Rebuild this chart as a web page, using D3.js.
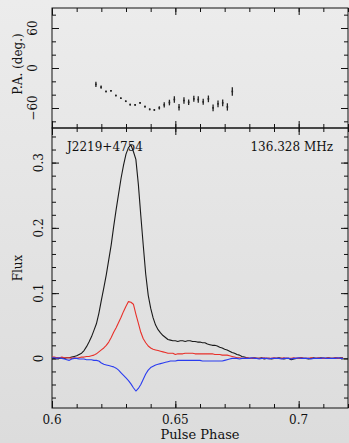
<!DOCTYPE html>
<html>
<head>
<meta charset="utf-8">
<script src="https://cdn.jsdelivr.net/npm/d3@7"></script>
<style>
  html, body { margin: 0; padding: 0; background: #e4e4e4; }
  svg { display: block; }
  text { font-family: "DejaVu Serif", "Liberation Serif", serif; fill: #111; }
</style>
</head>
<body>
<div id="chart"></div>
<script>
// ---------------- DATA ----------------
const phaseStart = 0.600;
const phaseStep = 0.001;

// Total intensity (black)
const fluxI = [
  0.001,0.000,0.001,0.000,0.001,0.000,0.001,0.001,0.002,0.003,
  0.004,0.006,0.008,0.012,0.018,0.025,0.033,0.043,0.053,0.069,
  0.089,0.108,0.128,0.151,0.174,0.202,0.228,0.252,0.276,0.296,
  0.313,0.323,0.327,0.317,0.305,0.267,0.219,0.173,0.129,0.097,
  0.077,0.062,0.051,0.044,0.039,0.035,0.032,0.029,0.028,0.027,
  0.027,0.026,0.027,0.027,0.026,0.027,0.027,0.026,0.026,0.025,
  0.025,0.024,0.024,0.022,0.021,0.020,0.020,0.019,0.017,0.016,
  0.014,0.013,0.011,0.009,0.008,0.006,0.005,0.003,0.002,0.001,
  0.000,0.000,0.001,0.000,0.000,0.001,-0.001,0.000,0.000,-0.001,
  0.000,0.000,0.001,0.000,-0.001,0.000,0.000,-0.002,-0.001,0.000,
  0.000,0.001,0.000,0.000,-0.001,0.000,0.001,0.000,0.000,0.001,
  0.000,0.000,0.001,0.000,0.000,0.001,0.000,0.001,0.001
];
// Linear polarisation (red)
const fluxL = [
  0.002,0.002,0.001,0.001,0.002,0.001,0.001,0.001,0.000,0.001,
  0.000,0.001,0.002,0.002,0.003,0.003,0.004,0.005,0.007,0.010,
  0.013,0.016,0.020,0.025,0.032,0.040,0.047,0.055,0.063,0.072,
  0.080,0.087,0.086,0.083,0.068,0.054,0.040,0.030,0.024,0.019,
  0.016,0.014,0.013,0.012,0.011,0.010,0.009,0.008,0.008,0.008,
  0.006,0.007,0.007,0.007,0.008,0.008,0.008,0.008,0.007,0.007,
  0.007,0.007,0.007,0.007,0.007,0.007,0.006,0.006,0.006,0.005,
  0.005,0.005,0.004,0.003,0.002,0.001,0.001,0.000,0.000,0.001,
  0.000,0.000,0.001,0.000,0.000,0.000,0.001,0.000,0.000,0.000,
  0.001,0.000,0.000,0.000,0.001,0.000,0.000,0.000,0.001,0.000,
  0.000,0.001,0.000,0.000,0.000,0.001,0.000,0.000,0.001,0.000,
  0.000,0.000,0.001,0.000,0.000,0.001,0.000,0.000,0.001
];
// Circular polarisation (blue)
const fluxV = [
  0.001,0.001,0.000,0.001,0.000,-0.001,-0.002,-0.003,-0.001,0.000,
  0.000,-0.001,-0.001,-0.001,-0.002,-0.002,-0.002,-0.003,-0.003,-0.004,
  -0.007,-0.009,-0.010,-0.011,-0.012,-0.013,-0.015,-0.018,-0.022,-0.026,
  -0.030,-0.034,-0.039,-0.045,-0.050,-0.046,-0.040,-0.032,-0.024,-0.018,
  -0.014,-0.012,-0.010,-0.009,-0.008,-0.007,-0.006,-0.005,-0.004,-0.004,
  -0.004,-0.003,-0.003,-0.003,-0.003,-0.003,-0.003,-0.003,-0.003,-0.003,
  -0.003,-0.004,-0.004,-0.004,-0.004,-0.004,-0.004,-0.004,-0.004,-0.004,
  -0.003,-0.002,-0.001,0.000,0.000,0.000,-0.001,0.000,0.000,0.000,
  0.000,0.001,0.000,0.000,-0.001,0.000,0.000,0.000,-0.001,0.000,
  0.000,0.000,0.000,-0.001,0.000,0.000,0.000,-0.001,0.000,0.000,
  0.001,0.000,0.000,0.000,0.000,-0.001,0.000,0.000,0.000,0.000,
  0.001,0.000,0.000,0.000,0.000,0.000,0.001,0.000,0.000
];

// Position angle points
const paPhase = [
  0.6178,0.6199,0.6219,0.6239,0.6259,0.6279,0.6299,0.6317,0.6337,0.6357,
  0.6377,0.6396,0.6415,0.6435,0.6455,0.6476,0.6496,0.6515,0.6535,0.6554,
  0.6575,0.6593,0.6613,0.6634,0.6653,0.6673,0.6692,0.6711,0.6731
];
const paValue = [
  -24.6,-28.7,-35.2,-34.2,-41.3,-45.3,-49.9,-54.9,-55.3,-52.3,
  -57.9,-62.0,-62.9,-59.8,-55.3,-51.8,-47.3,-58.9,-48.8,-51.4,
  -46.3,-47.3,-50.8,-46.3,-59.8,-53.8,-52.3,-58.4,-35.2
];
const paError = [
  3.8,2.5,1.2,1.2,1.2,1.2,1.2,1.2,1.2,1.2,
  1.2,1.2,1.2,2.5,3.8,4.2,4.8,5.0,5.0,4.0,
  4.5,4.8,4.5,5.0,5.0,5.0,5.0,5.5,6.5
];

// Tick values / labels
const xMajorTicks = [0.6, 0.65, 0.7];
const xTickLabels = ["0.6", "0.65", "0.7"];
const paMajorTicks = [-60, 0, 60];
const paTickLabels = ["\u221260", "0", "60"];
const fluxMajorTicks = [0, 0.1, 0.2, 0.3];
const fluxTickLabels = ["0", "0.1", "0.2", "0.3"];

const pulsarName = "J2219+4754";
const freqLabel = "136.328 MHz";

// ---------------- LAYOUT ----------------
const W = 349, H = 443;
const L = 52, R = 348;
const topY0 = 8, midY = 128, botY1 = 408;

const svg = d3.select("#chart").append("svg").attr("width", W).attr("height", H);
const defs = svg.append("defs");
const grad = defs.append("linearGradient").attr("id", "bg").attr("x1", 0).attr("y1", 0).attr("x2", 0).attr("y2", 1);
grad.append("stop").attr("offset", "0%").attr("stop-color", "#ececec");
grad.append("stop").attr("offset", "100%").attr("stop-color", "#dcdcdc");
svg.append("rect").attr("width", W).attr("height", H).attr("fill", "url(#bg)");

const x = d3.scaleLinear().domain([0.6, 0.72]).range([L, R]);
const yPA = d3.scaleLinear().domain([-90, 90]).range([midY, topY0]);
const yF = d3.scaleLinear().domain([-0.076, 0.353]).range([botY1, midY]);

const xMinor = d3.range(0.6, 0.7201, 0.01);
const paMinor = d3.range(-80, 81, 20);
const fMinor = d3.range(-0.06, 0.351, 0.02);

function axisTicks(g, axisFn, scale, vals, size) {
  const a = axisFn(scale).tickValues(vals).tickSize(size).tickFormat("");
  g.call(a);
  g.select(".domain").remove();
  g.selectAll(".tick line").attr("stroke", "#111").attr("stroke-width", 1);
}

function panel(yScale, y0, y1, yMajor, yMinor) {
  const g = svg.append("g");
  axisTicks(g.append("g").attr("transform", `translate(0,${y1})`), d3.axisBottom, x, xMinor, -4);
  axisTicks(g.append("g").attr("transform", `translate(0,${y1})`), d3.axisBottom, x, xMajorTicks, -7);
  axisTicks(g.append("g").attr("transform", `translate(0,${y0})`), d3.axisTop, x, xMinor, -4);
  axisTicks(g.append("g").attr("transform", `translate(0,${y0})`), d3.axisTop, x, xMajorTicks, -7);
  axisTicks(g.append("g").attr("transform", `translate(${L},0)`), d3.axisLeft, yScale, yMinor, -4);
  axisTicks(g.append("g").attr("transform", `translate(${L},0)`), d3.axisLeft, yScale, yMajor, -7);
  axisTicks(g.append("g").attr("transform", `translate(${R},0)`), d3.axisRight, yScale, yMinor, -4);
  axisTicks(g.append("g").attr("transform", `translate(${R},0)`), d3.axisRight, yScale, yMajor, -7);
  g.append("rect").attr("x", L).attr("y", y0).attr("width", R - L).attr("height", y1 - y0)
    .attr("fill", "none").attr("stroke", "#111").attr("stroke-width", 1);
}

panel(yPA, topY0, midY, paMajorTicks, paMinor);
panel(yF, midY, botY1, fluxMajorTicks, fMinor);

// y tick labels (rotated)
paMajorTicks.forEach((v, i) => {
  svg.append("text").attr("transform", `translate(37,${yPA(v)}) rotate(-90)`)
    .attr("text-anchor", "middle").attr("font-size", 12).text(paTickLabels[i]);
});
fluxMajorTicks.forEach((v, i) => {
  svg.append("text").attr("transform", `translate(43,${yF(v)}) rotate(-90)`)
    .attr("text-anchor", "middle").attr("font-size", 12).text(fluxTickLabels[i]);
});
// x tick labels
xMajorTicks.forEach((v, i) => {
  svg.append("text").attr("x", x(v)).attr("y", 424)
    .attr("text-anchor", "middle").attr("font-size", 12).text(xTickLabels[i]);
});

// axis titles
svg.append("text").attr("transform", `translate(22,64) rotate(-90)`)
  .attr("text-anchor", "middle").attr("font-size", 12).text("P.A. (deg.)");
svg.append("text").attr("transform", `translate(22,${(midY + botY1) / 2}) rotate(-90)`)
  .attr("text-anchor", "middle").attr("font-size", 12).text("Flux");
svg.append("text").attr("x", (L + R) / 2).attr("y", 439)
  .attr("text-anchor", "middle").attr("font-size", 13).text("Pulse Phase");

// ---------------- PA points ----------------
const paG = svg.append("g");
paPhase.forEach((p, i) => {
  const cx = x(p);
  paG.append("line").attr("x1", cx).attr("x2", cx)
    .attr("y1", yPA(paValue[i] - paError[i])).attr("y2", yPA(paValue[i] + paError[i]))
    .attr("stroke", "#222").attr("stroke-width", 1.3);
  paG.append("rect").attr("x", cx - 0.8).attr("y", yPA(paValue[i]) - 0.8)
    .attr("width", 1.6).attr("height", 1.6).attr("fill", "#222");
});

// ---------------- Profiles ----------------
const phases = fluxI.map((_, i) => phaseStart + i * phaseStep);
const line = d3.line().x(d => x(d[0])).y(d => yF(d[1]));
function drawProfile(vals, color) {
  svg.append("path").datum(vals.map((v, i) => [phases[i], v]))
    .attr("d", line).attr("fill", "none").attr("stroke", color)
    .attr("stroke-width", 1.1).attr("stroke-linejoin", "round");
}
drawProfile(fluxI, "#1a1a1a");
drawProfile(fluxL, "#e8302a");
drawProfile(fluxV, "#2a3cf0");

// labels inside bottom panel
svg.append("text").attr("x", 67).attr("y", 151).attr("font-size", 12).text(pulsarName);
svg.append("text").attr("x", 333).attr("y", 151).attr("text-anchor", "end").attr("font-size", 12).text(freqLabel);
</script>
</body>
</html>
